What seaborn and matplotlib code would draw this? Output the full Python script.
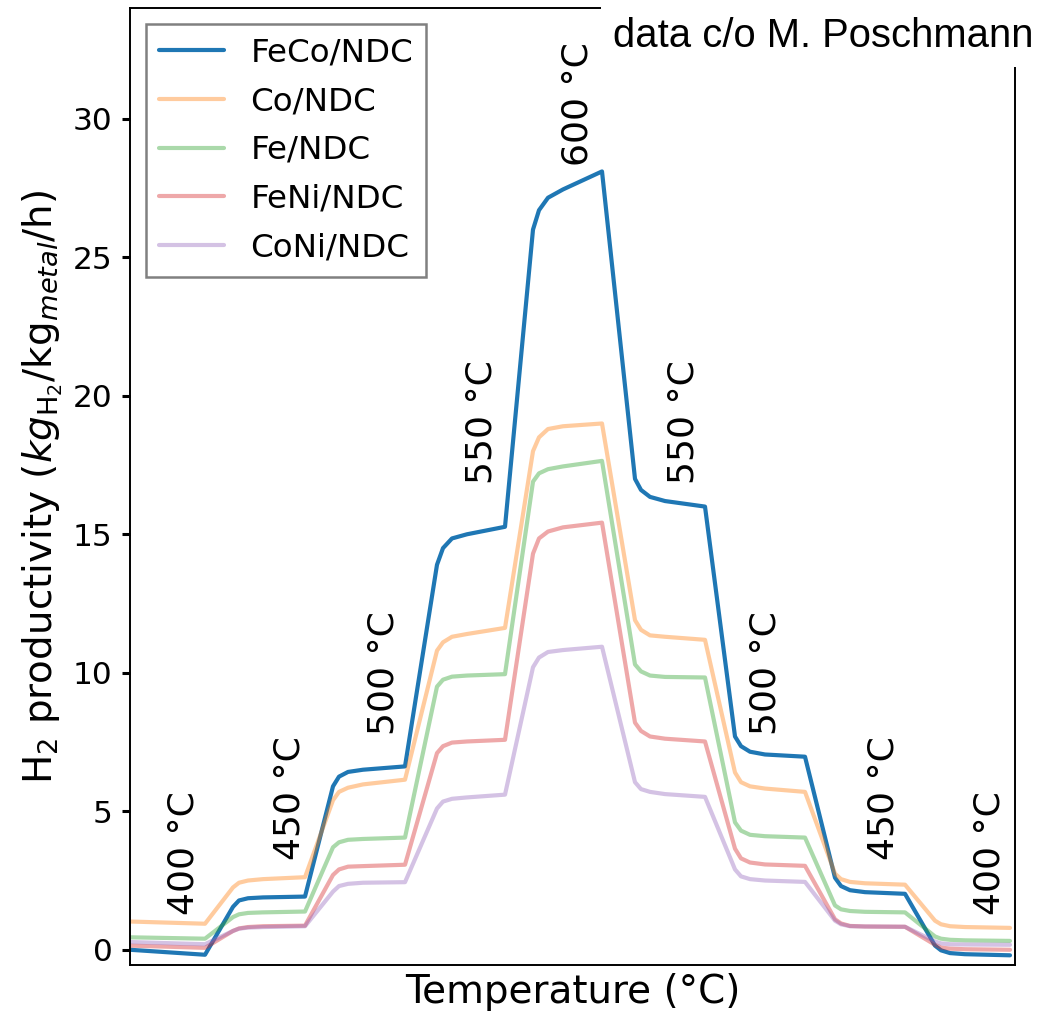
import matplotlib
matplotlib.use("Agg")
import matplotlib.pyplot as plt
import numpy as np
import pandas as pd
import seaborn as sns

# Time base shared by all runs (arbitrary units along the temperature programme)
time = [130, 205,
        233, 239, 248, 263, 305,
        333, 339, 348, 363, 405,
        437, 443, 452, 467, 505,
        533, 539, 548, 563, 602,
        635, 641, 650, 665, 705,
        735, 741, 750, 765, 805,
        835, 841, 850, 865, 905,
        935, 941, 950, 965, 1010]

feco = [0.00, -0.18,
        1.55, 1.78, 1.86, 1.89, 1.92,
        5.90, 6.25, 6.42, 6.50, 6.62,
        13.9, 14.5, 14.85, 15.0, 15.27,
        26.0, 26.7, 27.15, 27.45, 28.1,
        17.0, 16.6, 16.35, 16.2, 16.0,
        7.70, 7.35, 7.15, 7.05, 6.97,
        2.60, 2.30, 2.15, 2.08, 2.02,
        0.15, -0.02, -0.12, -0.16, -0.20]
co = [1.02, 0.94,
      2.25, 2.42, 2.50, 2.55, 2.62,
      5.40, 5.70, 5.85, 5.97, 6.14,
      10.8, 11.1, 11.3, 11.4, 11.62,
      18.0, 18.5, 18.8, 18.9, 19.0,
      11.9, 11.55, 11.35, 11.3, 11.19,
      6.40, 6.05, 5.90, 5.82, 5.70,
      2.75, 2.55, 2.45, 2.40, 2.35,
      1.05, 0.92, 0.85, 0.82, 0.79]
fe = [0.45, 0.40,
      1.18, 1.28, 1.33, 1.35, 1.38,
      3.70, 3.88, 3.97, 4.00, 4.05,
      9.50, 9.75, 9.86, 9.90, 9.95,
      16.9, 17.2, 17.35, 17.45, 17.65,
      10.3, 10.05, 9.90, 9.85, 9.83,
      4.60, 4.30, 4.15, 4.10, 4.05,
      1.60, 1.46, 1.40, 1.37, 1.35,
      0.48, 0.40, 0.36, 0.34, 0.32]
feni = [0.15, 0.07,
        0.68, 0.77, 0.82, 0.85, 0.87,
        2.70, 2.90, 3.00, 3.02, 3.07,
        7.10, 7.35, 7.48, 7.52, 7.58,
        14.3, 14.85, 15.1, 15.25, 15.42,
        8.20, 7.90, 7.70, 7.62, 7.52,
        3.65, 3.30, 3.15, 3.08, 3.03,
        1.10, 0.95, 0.86, 0.84, 0.83,
        0.18, 0.08, 0.04, 0.02, 0.00]
coni = [0.28, 0.20,
        0.68, 0.76, 0.80, 0.82, 0.85,
        2.10, 2.30, 2.38, 2.42, 2.44,
        5.10, 5.35, 5.45, 5.50, 5.60,
        10.2, 10.55, 10.75, 10.82, 10.94,
        6.05, 5.80, 5.70, 5.62, 5.52,
        2.90, 2.65, 2.55, 2.50, 2.45,
        1.05, 0.92, 0.85, 0.84, 0.83,
        0.30, 0.23, 0.20, 0.19, 0.18]

series_names = ["FeCo/NDC", "Co/NDC", "Fe/NDC", "FeNi/NDC", "CoNi/NDC"]
series_values = [feco, co, fe, feni, coni]
series_colors = ["#1f77b4", "#ff7f0e", "#2ca02c", "#d62728", "#9467bd"]
series_alpha = [1.0, 0.4, 0.4, 0.4, 0.4]

# Temperature step labels: (time position, height, text)
step_time = [183, 290, 383, 482, 578, 683, 765, 883, 990]
step_height = [1.26, 3.25, 7.76, 16.8, 28.3, 16.8, 7.76, 3.25, 1.26]
step_label = ["400 °C", "450 °C", "500 °C", "550 °C", "600 °C",
              "550 °C", "500 °C", "450 °C", "400 °C"]

df = pd.concat(
    [pd.DataFrame({"time": time, "productivity": v, "catalyst": n})
     for n, v in zip(series_names, series_values)],
    ignore_index=True,
)

sns.set_style("white")
plt.rcParams["font.family"] = ["DejaVu Sans"]
plt.rcParams["text.color"] = "black"
plt.rcParams["axes.labelcolor"] = "black"
plt.rcParams["ytick.color"] = "black"

fig = plt.figure(figsize=(10.4, 10.13), dpi=100)
ax = fig.add_axes([130 / 1040, 1 - 965 / 1013, 885 / 1040, 957 / 1013])

for name, color, alpha in zip(series_names, series_colors, series_alpha):
    sns.lineplot(data=df[df["catalyst"] == name], x="time", y="productivity",
                 color=color, alpha=alpha, lw=3.0, label=name, ax=ax)

for t, h, s in zip(step_time, step_height, step_label):
    ax.text(t, h, s, rotation=90, ha="center", va="bottom", fontsize=26)

ax.set_xlim(130, 1015)
ax.set_ylim(-0.55, 34.0)
ax.set_xticks([])
ax.set_yticks([0, 5, 10, 15, 20, 25, 30])
ax.tick_params(axis="y", direction="out", length=5.5, width=2.2, pad=7,
               labelsize=22.5, left=True, colors="black")
ax.set_xlabel("Temperature (°C)", fontsize=28, labelpad=6)
ax.set_ylabel(r"H$_2$ productivity ($kg_{\mathrm{H_2}}$/kg$_{metal}$/h)",
              fontsize=28, labelpad=6)
for sp in ax.spines.values():
    sp.set_color("black")
    sp.set_linewidth(1.4)

leg = ax.legend(loc="upper left", fontsize=23.4, frameon=True, fancybox=False,
                edgecolor="gray", framealpha=1.0, labelspacing=0.55)
leg.get_frame().set_linewidth(1.8)

fig.text(613 / 1040, 1 - 47 / 1013, "data c/o M. Poschmann",
         family="Liberation Sans", fontsize=28.8, ha="left", va="baseline",
         bbox=dict(boxstyle="square,pad=0.3", fc="white", ec="none"),
         zorder=10)

fig.savefig("out.png", dpi=100)
